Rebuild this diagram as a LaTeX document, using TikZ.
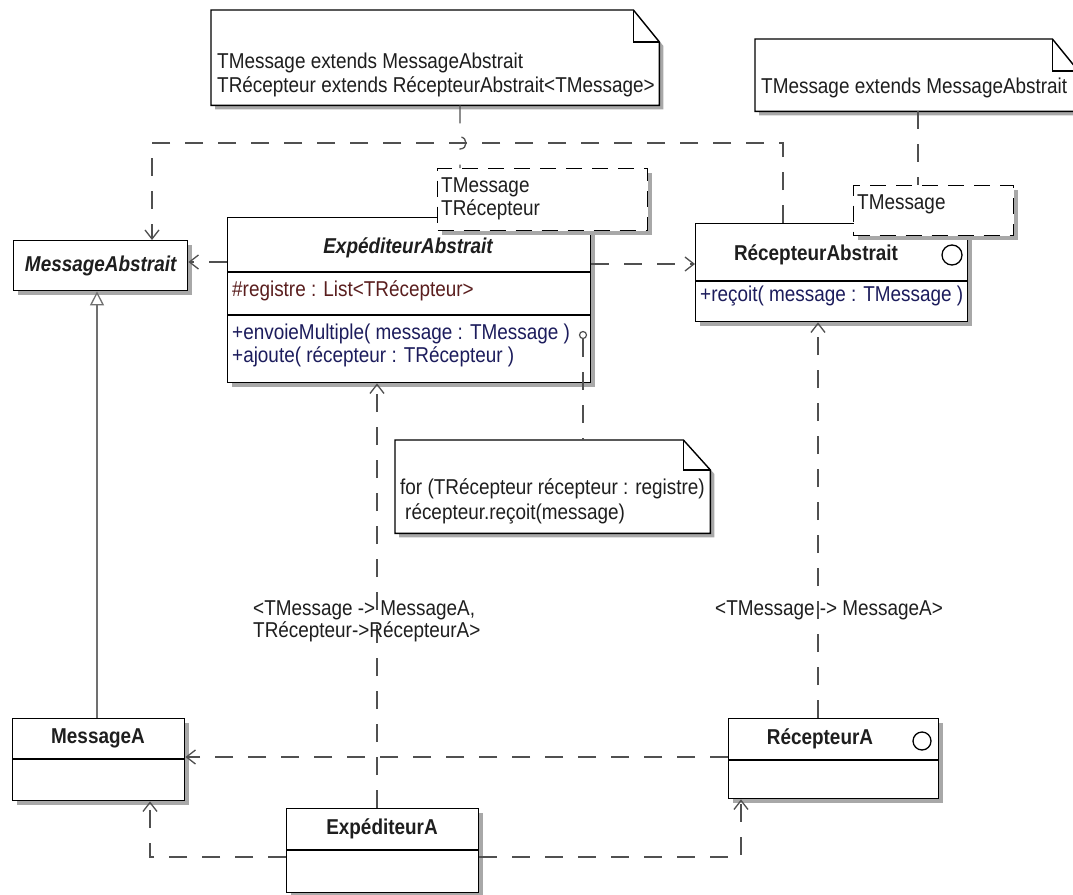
\documentclass[tikz,border=0pt]{standalone}
\usepackage{fontspec}
\setmainfont{Liberation Sans}[FakeStretch=0.88]
\usetikzlibrary{arrows.meta,shadows,calc}

\definecolor{linegray}{HTML}{505050}
\definecolor{gengray}{HTML}{707070}
\definecolor{shadowgray}{HTML}{A8A8A8}
\definecolor{attrred}{HTML}{5A1E1E}
\definecolor{opblue}{HTML}{1C1C5C}
\definecolor{inkgray}{HTML}{1E1E1E}
\newcommand\umlfs{\fontsize{21.5}{25}\selectfont}

% UML note: folded-corner outline around an invisible frame node
\newcommand\umlnote[3]{%
  \fill[shadowgray, transform canvas={shift={(4pt,-4pt)}}]
    (#1.north west) -- ([xshift=-#2pt]#1.north east) -- ([yshift=-#3pt]#1.north east)
    -- (#1.south east) -- (#1.south west) -- cycle;
  \draw[notefill] (#1.north west) -- ([xshift=-#2pt]#1.north east) -- ([yshift=-#3pt]#1.north east)
    -- (#1.south east) -- (#1.south west) -- cycle;
  \draw[notefill, fill=none] ([xshift=-#2pt]#1.north east) |- ([yshift=-#3pt]#1.north east);
}

\tikzset{
  boxshadow/.style={drop shadow={shadow xshift=4pt, shadow yshift=-4pt, fill=shadowgray, opacity=1}},
  clsbox/.style={draw=black, line width=1.4pt, fill=white, boxshadow, inner sep=0pt, anchor=north west},
  tmplbox/.style={draw=black, line width=1.4pt, dash pattern=on 16pt off 10pt, fill=white, boxshadow, inner sep=0pt, anchor=north west},
  frame/.style={inner sep=0pt, anchor=north west, draw=none},
  lbl/.style={font=\umlfs, text=inkgray, inner sep=0pt, anchor=mid west},
  clsname/.style={font=\umlfs\bfseries, text=inkgray, inner sep=0pt},
  dep/.style={draw=linegray, line width=1.3pt, dash pattern=on 18pt off 15pt,
    -{Straight Barb[length=9pt,width=14pt,line width=1.3pt]}},
  notelink/.style={draw=linegray, line width=1.3pt, dash pattern=on 18pt off 15pt},
  gen/.style={draw=gengray, line width=1.3pt, -{Triangle[open,length=14pt,width=14pt,fill=white]}},
  notefill/.style={fill=white, draw=black, line width=1.4pt, line join=miter},
  sep/.style={draw=black, line width=1.4pt},
}

\begin{document}
\begin{tikzpicture}[x=1pt,y=-1pt]
\useasboundingbox (0,0) rectangle (1073,894);
\clip (0,0) rectangle (1073,894);
\fill[white] (0,0) rectangle (1073,894);

% ---------- classes ----------
\node[clsbox, minimum width=174pt, minimum height=50pt] (ma) at (13,240) {};
\node[clsname, font=\umlfs\bfseries\itshape] (maN) at (ma.center) {MessageAbstrait};

\node[clsbox, minimum width=363pt, minimum height=165pt] (ea) at (227,217) {};
\node[clsname, font=\umlfs\bfseries\itshape] (eaN) at (408,248) {ExpéditeurAbstrait};
\draw[sep] ($(ea.north west)+(0,55)$) -- ($(ea.north east)+(0,55)$);
\draw[sep] ($(ea.north west)+(0,98)$) -- ($(ea.north east)+(0,98)$);
\node[lbl, text=attrred] (eaA) at (232,294) {\#registre : List<TRécepteur>};
\node[lbl, text=opblue] (eaO1) at (232,337) {+envoieMultiple( message : TMessage )};
\node[lbl, text=opblue] (eaO2) at (232,360) {+ajoute( récepteur : TRécepteur )};

\node[clsbox, minimum width=272pt, minimum height=98pt] (ra) at (695,223) {};
\node[clsname] (raN) at (816,255) {RécepteurAbstrait};
\draw[sep] ($(ra.north west)+(0,58)$) -- ($(ra.north east)+(0,58)$);
\draw[line width=1.3pt] (952,255) circle[radius=10pt];
\node[lbl, text=opblue] (raO) at (700,299) {+reçoit( message : TMessage )};

\node[clsbox, minimum width=172pt, minimum height=82pt] (msa) at (12,718) {};
\node[clsname] (msaN) at (98,738) {MessageA};
\draw[sep] ($(msa.north west)+(0,41)$) -- ($(msa.north east)+(0,41)$);

\node[clsbox, minimum width=210pt, minimum height=80pt] (rea) at (728,718) {};
\node[clsname] (reaN) at (820,739) {RécepteurA};
\draw[sep] ($(rea.north west)+(0,42)$) -- ($(rea.north east)+(0,42)$);
\draw[line width=1.3pt] (922,741) circle[radius=9pt];

\node[clsbox, minimum width=192pt, minimum height=84pt] (exa) at (286,808) {};
\node[clsname] (exaN) at (382,829) {ExpéditeurA};
\draw[sep] ($(exa.north west)+(0,42)$) -- ($(exa.north east)+(0,42)$);

% ---------- notes (frames) ----------
\node[frame, minimum width=448pt, minimum height=95pt] (n1) at (211,10) {};
\node[frame, minimum width=323pt, minimum height=72pt] (n2) at (755,39) {};
\node[frame, minimum width=315pt, minimum height=93pt] (n3) at (395,440) {};

% ---------- relations ----------
\coordinate (eaL) at ([yshift=-45pt]ea.north west);
\draw[dep] (eaL) -- (eaL -| ma.east);
\coordinate (eaR) at ([yshift=-47pt]ea.north east);
\draw[dep] (eaR) -- (eaR -| ra.west);

\coordinate (raT) at ([xshift=88pt]ra.north west);
\coordinate (maT) at ([xshift=139pt]ma.north west);
\coordinate (busY) at (0,143);
\draw[dep] (raT) -- (raT |- busY) -- (maT |- busY) -- (maT);

\coordinate (bx1) at ([xshift=150pt]ea.south west);
\draw[dep] (bx1 |- exa.north) -- (bx1);
\coordinate (bx2) at ([xshift=123pt]ra.south west);
\draw[dep] (bx2 |- rea.north) -- (bx2);

\coordinate (reaL) at ([yshift=-39pt]rea.north west);
\draw[dep] (reaL) -- (reaL -| msa.east);
\coordinate (exaL) at ([yshift=-49pt]exa.north west);
\coordinate (msaB) at ([xshift=138pt]msa.south west);
\draw[dep] (exaL) -| (msaB);
\coordinate (exaR) at ([yshift=-49pt]exa.north east);
\coordinate (reaB) at ([xshift=13pt]rea.south west);
\draw[dep] (exaR) -| (reaB);

\coordinate (gx) at ([xshift=84pt]ma.south west);
\draw[gen] (gx |- msa.north) -- (gx);

% binding labels
\node[lbl] (b1a) at (253,613) {<TMessage -> MessageA,};
\node[lbl] (b1b) at (253,635) {TRécepteur->RécepteurA>};
\node[lbl] (b2a) at (715,613) {<TMessage -> MessageA>};

% ---------- template parameter boxes ----------
\node[tmplbox, minimum width=210pt, minimum height=62pt] (t1) at (437,168) {};
\node[lbl] (t1a) at (441,190) {TMessage};
\node[lbl] (t1b) at (441,213) {TRécepteur};
\node[tmplbox, minimum width=160pt, minimum height=50pt] (t2) at (853,185) {};
\node[lbl] (t2a) at (857,207) {TMessage};

% ---------- notes ----------
\umlnote{n1}{26}{32}
\umlnote{n2}{26}{32}
\umlnote{n3}{27}{30}
\node[lbl] (n1a) at (217,66) {TMessage extends MessageAbstrait};
\node[lbl] (n1b) at (217,90) {TRécepteur extends RécepteurAbstrait<TMessage>};
\node[lbl] (n2a) at (761,91) {TMessage extends MessageAbstrait};
\node[lbl] (n3a) at (400,492) {for (TRécepteur récepteur : registre)};
\node[lbl] (n3b) at (400,517) {\hspace{5pt}récepteur.reçoit(message)};

% note links
\coordinate (n1L) at ([xshift=249pt]n1.south west);
\draw[notelink] (n1L) -- ($(n1L |- busY)+(0,-6)$)
  .. controls +(8,0) and +(8,0) .. ($(n1L |- busY)+(0,6)$) -- (n1L |- t1.north);
\coordinate (n2L) at ([xshift=163pt]n2.south west);
\draw[notelink] (n2L) -- (n2L |- t2.north);
\coordinate (opc) at (583,335);
\coordinate (opcB) at ($(opc)+(0,4)$);
\draw[notelink] (opcB) -- (opcB |- n3.north);
\draw[line width=1.2pt, draw=linegray, fill=white] (opc) circle[radius=3.5pt];
\end{tikzpicture}
\end{document}
